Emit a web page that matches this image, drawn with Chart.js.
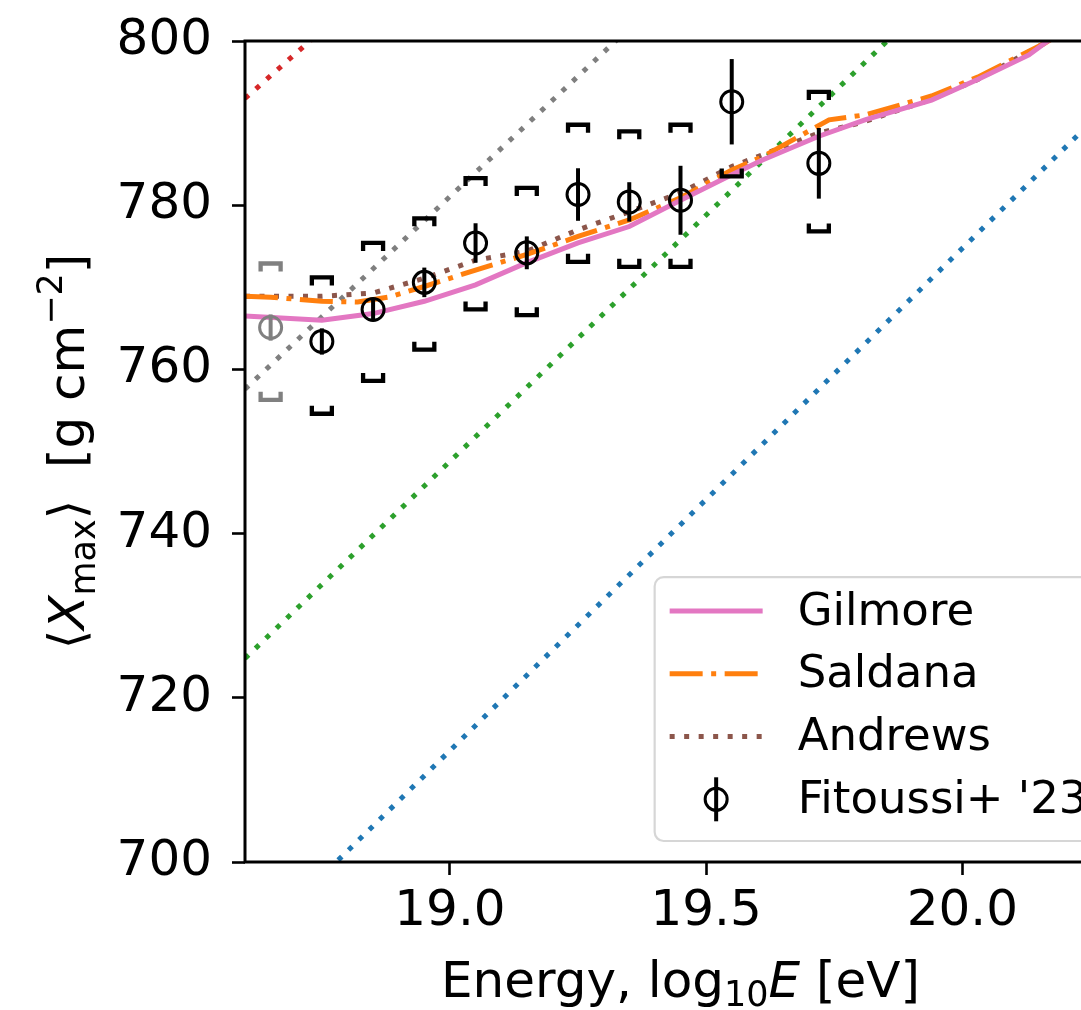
<!DOCTYPE html>
<html>
<head>
<meta charset="utf-8">
<script src="https://cdn.jsdelivr.net/npm/chart.js@4.4.1/dist/chart.umd.min.js"></script>
<style>
  html, body { margin: 0; padding: 0; background: #fff; overflow: hidden; }
  #wrap { width: 1130px; height: 1010px; }
</style>
</head>
<body>
<div id="wrap"><canvas id="xmax" width="1130" height="1010"></canvas></div>
<script>
// axis ticks
const xTicks = [19.0, 19.5, 20.0];
const yTicks = [700, 720, 740, 760, 780, 800];

// Fitoussi+ '23 measurements
const dataE     = [18.65, 18.75, 18.85, 18.95, 19.05, 19.15, 19.25, 19.35, 19.45, 19.55, 19.72];
const dataX     = [765.1, 763.4, 767.3, 770.6, 775.4, 774.2, 781.3, 780.4, 780.6, 792.6, 785.1];
const dataStat  = [1.6, 1.6, 1.4, 1.8, 2.4, 2.0, 3.2, 2.4, 4.2, 5.2, 4.3];
const dataSysHi = [772.9, 771.2, 775.4, 778.4, 783.3, 782.1, 789.8, 789.0, 789.8, 801.5, 793.8];
const dataSysLo = [756.3, 754.6, 758.6, 762.4, 767.3, 766.6, 773.1, 772.5, 772.5, 783.5, 776.8];
const greyBelow = 18.7;   // lowest bin is drawn greyed out

// model curves
const gilmoreE = [18.60, 18.75, 18.85, 18.95, 19.05, 19.15, 19.25, 19.35, 19.45, 19.55, 19.61, 19.72, 19.81, 19.94, 20.03, 20.13, 20.16, 20.25];
const gilmoreX = [766.5, 766.0, 766.8, 768.3, 770.3, 773.0, 775.4, 777.4, 780.6, 783.7, 785.5, 788.4, 790.4, 792.8, 795.3, 798.3, 799.7, 803.5];

const saldanaE = [18.60, 18.65, 18.75, 18.82, 18.88, 18.95, 19.05, 19.15, 19.25, 19.35, 19.45, 19.55, 19.61, 19.74, 19.81, 19.94, 20.03, 20.16, 20.25];
const saldanaX = [768.9, 768.8, 768.3, 768.2, 768.8, 770.1, 772.1, 774.0, 776.2, 778.2, 780.9, 784.3, 785.9, 790.4, 791.0, 793.3, 795.6, 799.7, 803.0];

const andrewsE = [18.60, 18.75, 18.85, 18.95, 19.05, 19.15, 19.25, 19.35, 19.45, 19.55, 19.72, 19.80, 19.94, 20.03, 20.16, 20.25];
const andrewsX = [768.9, 768.9, 769.3, 771.1, 773.3, 774.4, 777.0, 779.2, 781.5, 784.7, 788.8, 790.0, 792.9, 795.3, 799.7, 803.0];

// straight reference lines (not in the legend)
const redE   = [18.60, 18.75];  const redX   = [793.0, 801.3];
const greyE  = [18.60, 19.40];  const greyX  = [757.6, 804.5];
const greenE = [18.60, 20.00];  const greenX = [724.8, 808.8];
const blueE  = [18.60, 20.30];  const blueX  = [689.1, 793.1];

const FONT = "'DejaVu Sans', 'Liberation Sans', sans-serif";
const pts = (es, xs) => es.map((e, i) => ({ x: e, y: xs[i] }));

function lineSet(label, es, xs, color, dash, inLegend) {
  return {
    label: label, data: pts(es, xs), showLine: true, pointRadius: 0,
    borderColor: color, borderWidth: 5, borderDash: dash, borderCapStyle: 'butt',
    tension: 0, clip: 0, fill: false, inLegend: inLegend
  };
}

const datasets = [
  {
    label: "Fitoussi+ '23", data: pts(dataE, dataX), pointRadius: 11, pointBorderWidth: 3,
    pointBackgroundColor: 'rgba(0,0,0,0)',
    pointBorderColor: dataE.map(e => e < greyBelow ? '#808080' : '#000'),
    showLine: false, inLegend: true, isData: true
  },
  lineSet('Gilmore', gilmoreE, gilmoreX, '#e377c2', [], true),
  lineSet('Saldana', saldanaE, saldanaX, '#ff7f0e', [33, 8.5, 5, 8.5], true),
  lineSet('Andrews', andrewsE, andrewsX, '#8c564b', [5, 9.5], true),
  lineSet('red', redE, redX, '#d62728', [5, 9.5], false),
  lineSet('grey', greyE, greyX, '#7f7f7f', [5, 9.5], false),
  lineSet('green', greenE, greenX, '#2ca02c', [5, 9.5], false),
  lineSet('blue', blueE, blueX, '#1f77b4', [5, 9.5], false)
];

// error bars + systematic brackets under the circles
const errorBars = {
  id: 'errorBars',
  beforeDatasetDraw(chart, args) {
    if (args.index !== 0) return;
    const { ctx, chartArea: a, scales: { x, y } } = chart;
    ctx.save();
    ctx.beginPath(); ctx.rect(a.left, a.top, a.right - a.left, a.bottom - a.top); ctx.clip();
    ctx.lineCap = 'butt';
    dataE.forEach((e, i) => {
      const col = e < greyBelow ? '#808080' : '#000';
      const px = x.getPixelForValue(e);
      ctx.strokeStyle = col;
      ctx.lineWidth = 4;
      ctx.beginPath();
      ctx.moveTo(px, y.getPixelForValue(dataX[i] - dataStat[i]));
      ctx.lineTo(px, y.getPixelForValue(dataX[i] + dataStat[i]));
      ctx.stroke();
      // brackets
      const hw = 10, leg = 8;
      const hi = y.getPixelForValue(dataSysHi[i]);
      const lo = y.getPixelForValue(dataSysLo[i]);
      ctx.lineWidth = 4.3;
      ctx.lineJoin = 'miter';
      ctx.beginPath();
      ctx.moveTo(px - hw, hi + leg); ctx.lineTo(px - hw, hi); ctx.lineTo(px + hw, hi); ctx.lineTo(px + hw, hi + leg);
      ctx.stroke();
      ctx.beginPath();
      ctx.moveTo(px - hw, lo - leg); ctx.lineTo(px - hw, lo); ctx.lineTo(px + hw, lo); ctx.lineTo(px + hw, lo - leg);
      ctx.stroke();
    });
    ctx.restore();
  }
};

// axes frame on top of the curves
const frame = {
  id: 'frame',
  afterDatasetsDraw(chart) {
    const { ctx, chartArea: a } = chart;
    ctx.save();
    ctx.strokeStyle = '#000';
    ctx.lineWidth = 3;
    ctx.strokeRect(a.left, a.top, a.right - a.left, a.bottom - a.top);
    ctx.restore();
  }
};

function drawRuns(ctx, runs, x0, y0) {
  let w = 0;
  runs.forEach(r => { ctx.font = r.f; w += ctx.measureText(r.t).width; });
  let x = x0 - w / 2;
  runs.forEach(r => {
    ctx.font = r.f;
    ctx.fillText(r.t, x, y0 + (r.dy || 0));
    x += ctx.measureText(r.t).width;
  });
}

const axisTitles = {
  id: 'axisTitles',
  afterDraw(chart) {
    const { ctx, chartArea: a } = chart;
    const big = '50px ' + FONT, small = '35px ' + FONT, ital = 'italic 50px ' + FONT;
    ctx.save();
    ctx.fillStyle = '#000';
    ctx.textBaseline = 'alphabetic';
    ctx.textAlign = 'left';
    drawRuns(ctx, [
      { t: 'Energy, log', f: big },
      { t: '10', f: small, dy: 9 },
      { t: 'E', f: ital },
      { t: ' [eV]', f: big }
    ], (a.left + a.right) / 2, 997);
    ctx.translate(84, (a.top + a.bottom) / 2);
    ctx.rotate(-Math.PI / 2);
    drawRuns(ctx, [
      { t: '\u27E8', f: big },
      { t: 'X', f: ital },
      { t: 'max', f: small, dy: 11 },
      { t: '\u27E9', f: big },
      { t: '  [g cm', f: big },
      { t: '\u22122', f: small, dy: -22 },
      { t: ']', f: big }
    ], 0, 0);
    ctx.restore();
  }
};

// matplotlib-like legend in the lower right corner
const legendBox = {
  id: 'legendBox',
  afterDraw(chart) {
    const { ctx, chartArea: a } = chart;
    const items = chart.data.datasets.filter(d => d.inLegend);
    const order = ['Gilmore', 'Saldana', 'Andrews', "Fitoussi+ '23"];
    items.sort((p, q) => order.indexOf(p.label) - order.indexOf(q.label));
    const font = '45px ' + FONT;
    ctx.save();
    ctx.font = font;
    const tw = Math.max(...items.map(d => ctx.measureText(d.label).width));
    const right = a.right - 22.5, bottom = a.bottom - 21;
    const rowH = 62.8, padL = 15, handle = 93, gap = 35;
    const h = 33.7 + 41.7 + rowH * (items.length - 1);
    const left = right - (padL + handle + gap + tw + 6);
    const top = bottom - h;
    ctx.beginPath();
    ctx.roundRect(left, top, right - left, h, 9);
    ctx.fillStyle = 'rgba(255,255,255,0.8)';
    ctx.fill();
    ctx.strokeStyle = 'rgba(204,204,204,0.8)';
    ctx.lineWidth = 2.2;
    ctx.stroke();
    items.forEach((d, i) => {
      const cy = top + 33.7 + rowH * i;
      const hx = left + padL;
      if (d.isData) {
        const cx = hx + handle / 2;
        ctx.strokeStyle = '#000';
        ctx.lineWidth = 4;
        ctx.setLineDash([]);
        ctx.beginPath(); ctx.moveTo(cx, cy - 22); ctx.lineTo(cx, cy + 22); ctx.stroke();
        ctx.lineWidth = 3;
        ctx.beginPath(); ctx.arc(cx, cy, 11, 0, Math.PI * 2); ctx.stroke();
      } else {
        ctx.strokeStyle = d.borderColor;
        ctx.lineWidth = d.borderWidth;
        ctx.lineCap = 'butt';
        ctx.setLineDash(d.borderDash);
        ctx.beginPath(); ctx.moveTo(hx, cy); ctx.lineTo(hx + handle, cy); ctx.stroke();
      }
      ctx.setLineDash([]);
      ctx.fillStyle = '#000';
      ctx.font = font;
      ctx.textBaseline = 'middle';
      ctx.textAlign = 'left';
      ctx.fillText(d.label, hx + handle + gap, cy + 2);
    });
    ctx.restore();
  }
};

Chart.defaults.font.family = FONT;
Chart.defaults.color = '#000';

new Chart(document.getElementById('xmax'), {
  type: 'scatter',
  data: { datasets: datasets },
  options: {
    responsive: false,
    animation: false,
    events: [],
    layout: { padding: { top: 41, right: 7, left: 0, bottom: 0 } },
    plugins: { legend: { display: false }, tooltip: { enabled: false }, title: { display: false } },
    scales: {
      x: {
        type: 'linear', min: 18.6, max: 20.3,
        afterBuildTicks: s => { s.ticks = xTicks.map(v => ({ value: v })); },
        afterFit: s => { s.height = 148; s.paddingLeft = 0; s.paddingRight = 0; },
        ticks: { font: { size: 50 }, padding: 7, maxRotation: 0, callback: v => v.toFixed(1) },
        grid: { drawOnChartArea: false, drawTicks: true, tickLength: 13, tickWidth: 2.6, tickColor: '#000' },
        border: { display: false }
      },
      y: {
        type: 'linear', min: 700, max: 800,
        afterBuildTicks: s => { s.ticks = yTicks.map(v => ({ value: v })); },
        afterFit: s => { s.width = 245; s.paddingTop = 0; s.paddingBottom = 0; },
        ticks: { font: { size: 50 }, padding: 20, callback: v => String(v) },
        grid: { drawOnChartArea: false, drawTicks: true, tickLength: 13, tickWidth: 2.6, tickColor: '#000' },
        border: { display: false }
      }
    }
  },
  plugins: [errorBars, frame, axisTitles, legendBox]
});
</script>
</body>
</html>
